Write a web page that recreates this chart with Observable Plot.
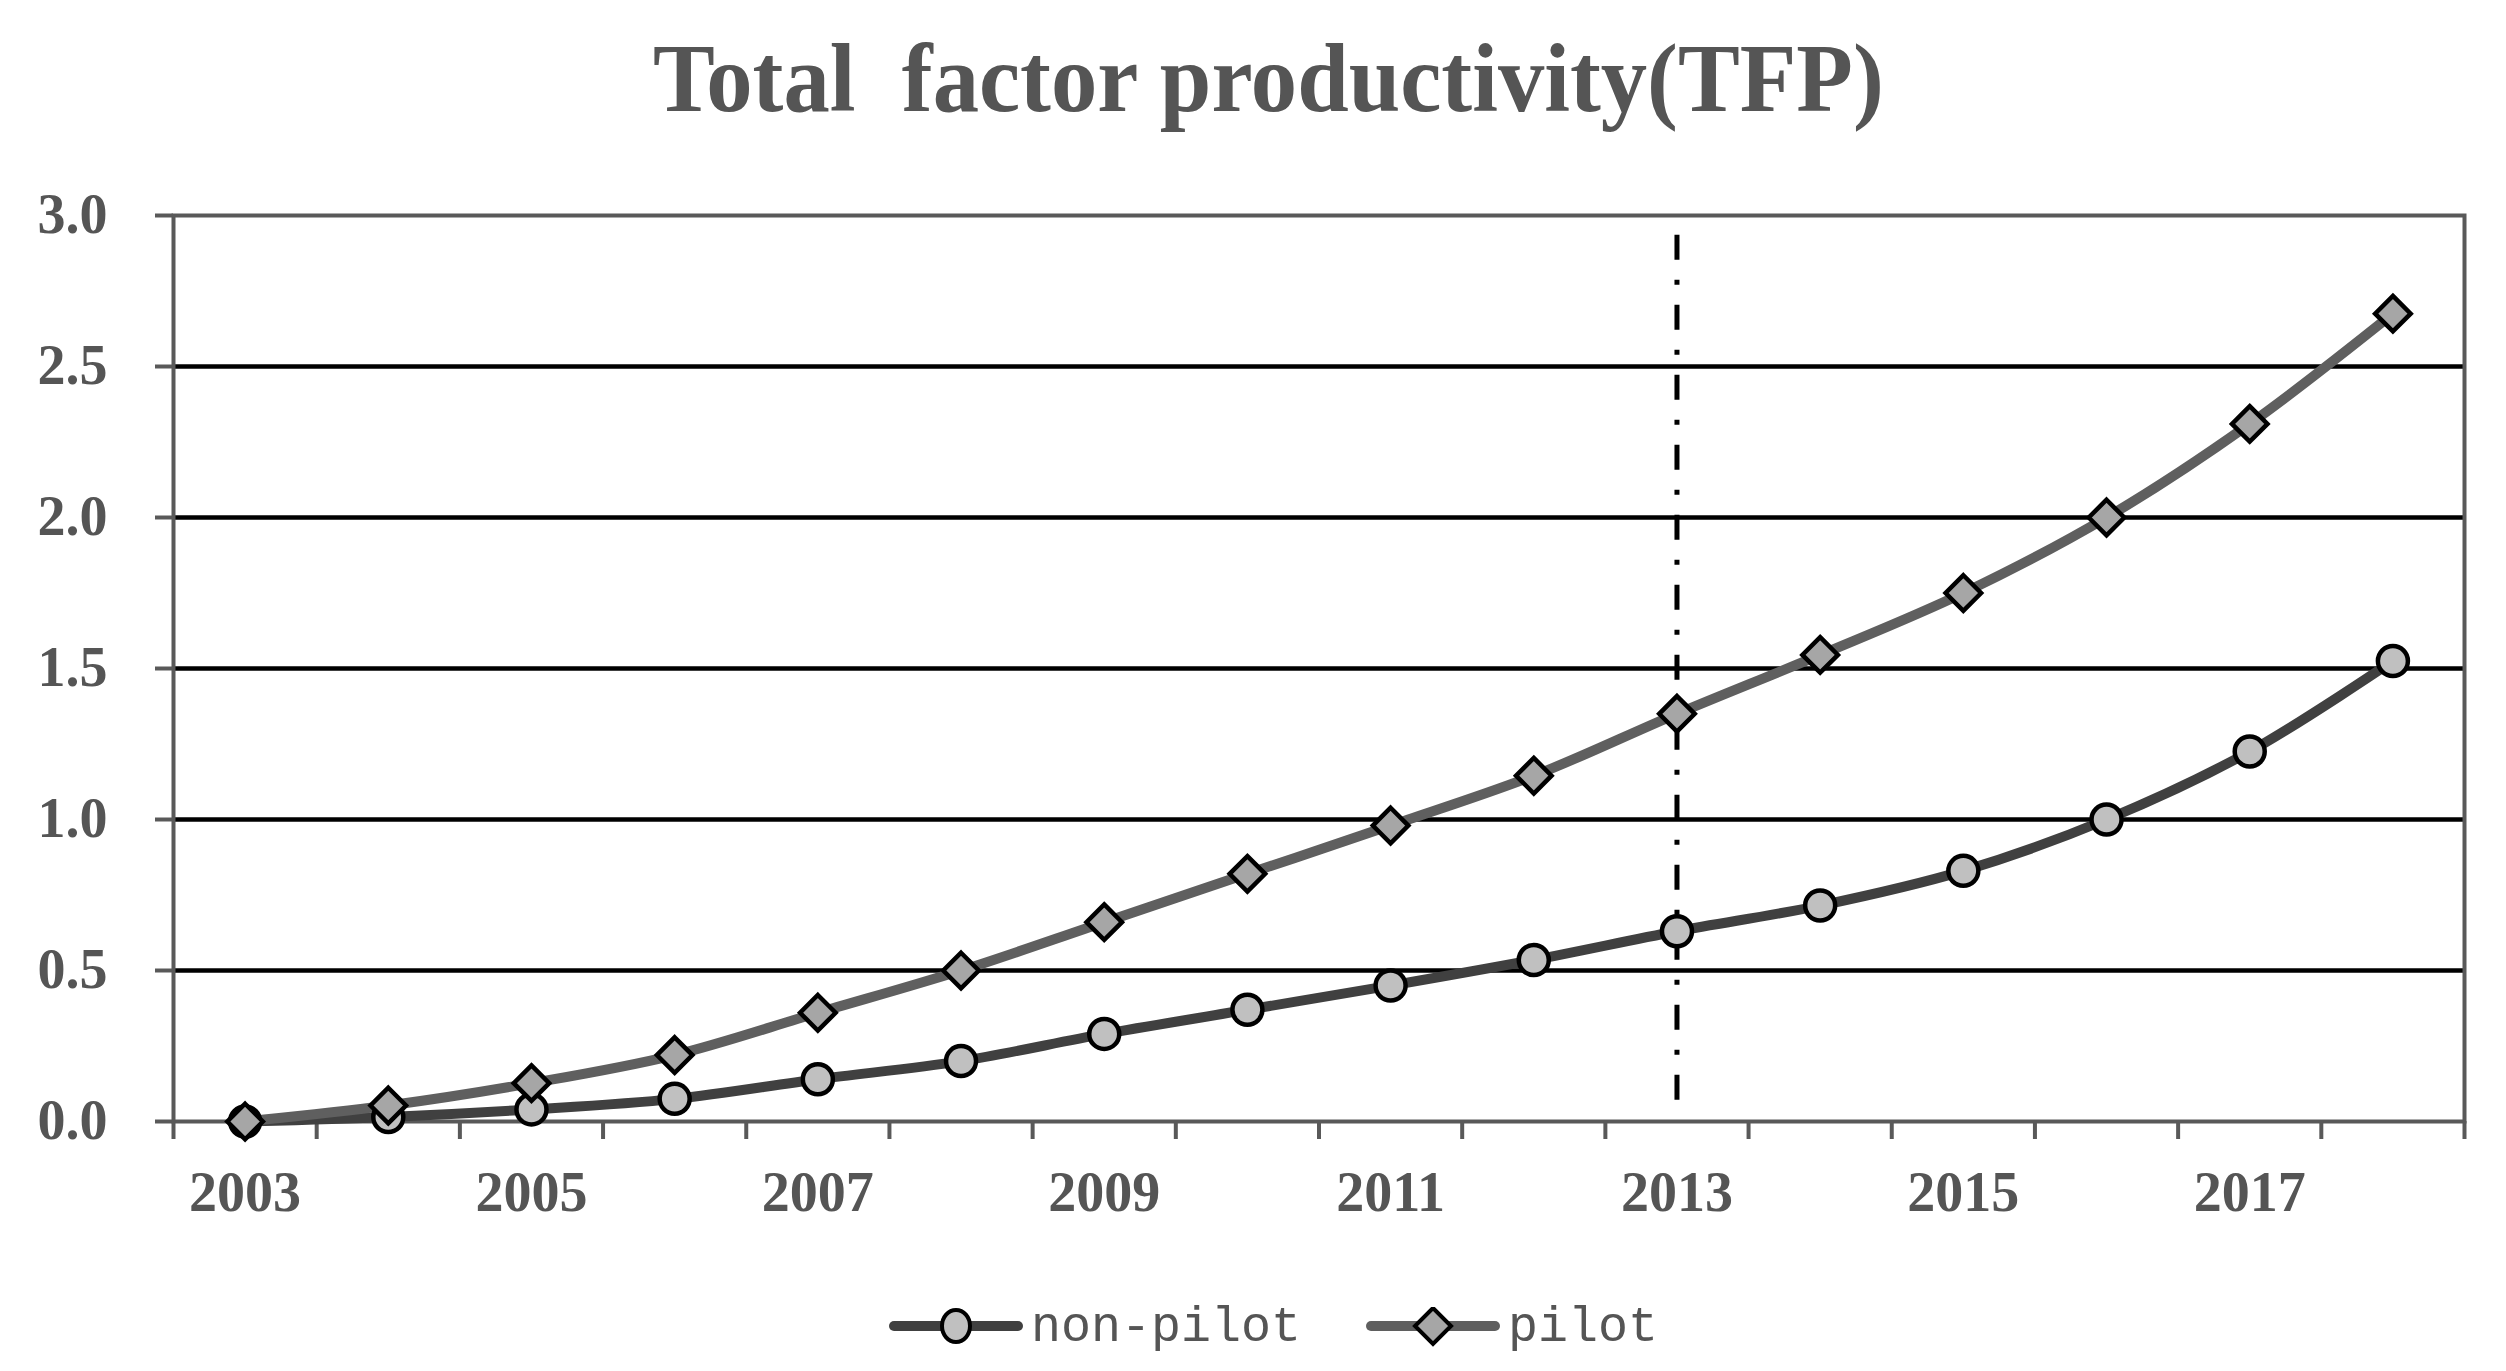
<!DOCTYPE html>
<html>
<head>
<meta charset="utf-8">
<script src="https://cdn.jsdelivr.net/npm/d3@7"></script>
<script src="https://cdn.jsdelivr.net/npm/@observablehq/plot@0.6"></script>
<style>
  html, body { margin: 0; padding: 0; background: #fff; }
  #wrap { position: relative; width: 2506px; height: 1371px; overflow: hidden; background: #fff; }
  #title { position: absolute; top: 30px; left: 0; width: 2506px; padding-left: 30px; box-sizing: border-box;
           text-align: center; font: bold 97px "Liberation Serif", "DejaVu Serif", serif; color: #555;
           line-height: 1; white-space: pre; }
  #title span { display: inline-block; transform: scaleX(0.955); }
  #chart { position: absolute; top: 170px; left: 0; }
  #legend { position: absolute; top: 1297px; left: 888px; height: 60px; display: flex; align-items: center;
            font: 50px "Liberation Mono", "DejaVu Sans Mono", monospace; color: #555; }
  #legend .item { display: flex; align-items: center; }
  #legend .label { margin-left: 7px; }
</style>
</head>
<body>
<div id="wrap">
  <div id="title"><span>Total  factor productivity(TFP)</span></div>
  <div id="chart"></div>
  <div id="legend"></div>
</div>
<script>
// ---- data ----
const years = [2003, 2004, 2005, 2006, 2007, 2008, 2009, 2010, 2011, 2012, 2013, 2014, 2015, 2016, 2017, 2018];
const nonPilot = [0.00, 0.015, 0.04, 0.075, 0.14, 0.20, 0.29, 0.37, 0.45, 0.535, 0.63, 0.715, 0.83, 1.00, 1.225, 1.525];
const pilot = [0.00, 0.053, 0.127, 0.22, 0.36, 0.50, 0.66, 0.82, 0.98, 1.145, 1.35, 1.545, 1.75, 2.00, 2.31, 2.675];
const seriesNames = ["non-pilot", "pilot"];
const yTicks = [0, 0.5, 1.0, 1.5, 2.0, 2.5, 3.0];
const gridValues = [0.5, 1.0, 1.5, 2.0, 2.5];
const xLabelYears = [2003, 2005, 2007, 2009, 2011, 2013, 2015, 2017];
const policyYear = [2013];
const policyRange = [0.07, 2.96];

// ---- styles ----
const colors = { "non-pilot": "#404040", "pilot": "#5f5f5f" };
const fills = { "non-pilot": "#c0c0c0", "pilot": "#a6a6a6" };

const nonRows = years.map((year, i) => ({ year, value: nonPilot[i], series: seriesNames[0] }));
const pilotRows = years.map((year, i) => ({ year, value: pilot[i], series: seriesNames[1] }));
const boundaries = years.map(y => y - 0.5).concat([years[years.length - 1] + 0.5]);

const chart = Plot.plot({
  width: 2506,
  height: 1061,
  marginLeft: 173,
  marginRight: 42,
  marginTop: 45,
  marginBottom: 110,
  x: { type: "linear", domain: [boundaries[0], boundaries[boundaries.length - 1]] },
  y: { domain: [0, 3] },
  style: { fontFamily: "'Liberation Serif', 'DejaVu Serif', serif", fontWeight: "bold", fontSize: "56px", color: "#555", background: "white", overflow: "visible" },
  marks: [
    Plot.ruleY(gridValues, { stroke: "black", strokeWidth: 4.5 }),
    Plot.frame({ stroke: "#595959", strokeWidth: 4 }),
    Plot.ruleX(policyYear, { y1: policyRange[0], y2: policyRange[1], stroke: "black", strokeWidth: 5, strokeDasharray: "25,20,5,20" }),
    Plot.axisY({ ticks: yTicks, tickFormat: d3.format(".1f"), tickSize: 18, tickPadding: 48, stroke: "#595959", strokeWidth: 4, label: null }),
    Plot.axisX({ ticks: boundaries, tickFormat: () => "", tickSize: 18, stroke: "#595959", strokeWidth: 4, label: null }),
    Plot.axisX({ ticks: xLabelYears, tickFormat: d => String(d), tickSize: 0, tickPadding: 50, label: null }),
    Plot.line(nonRows, { x: "year", y: "value", stroke: colors["non-pilot"], strokeWidth: 10, curve: "catmull-rom" }),
    Plot.line(pilotRows, { x: "year", y: "value", stroke: colors["pilot"], strokeWidth: 10, curve: "catmull-rom" }),
    Plot.dot(nonRows, { x: "year", y: "value", symbol: "circle", r: 15, fill: fills["non-pilot"], stroke: "black", strokeWidth: 4.5 }),
    Plot.dot(pilotRows, { x: "year", y: "value", symbol: "diamond2", r: 16, fill: fills["pilot"], stroke: "black", strokeWidth: 4.5 })
  ]
});
document.getElementById("chart").appendChild(chart);

// ---- legend ----
const legend = document.getElementById("legend");
seriesNames.forEach((name, i) => {
  const item = document.createElement("div");
  item.className = "item";
  if (i > 0) item.style.marginLeft = "64px";
  const marker = name === "pilot"
    ? `<path d="M68,1 L86,19 L68,37 L50,19 Z" fill="${fills[name]}" stroke="black" stroke-width="4"/>`
    : `<ellipse cx="68" cy="19" rx="14" ry="16" fill="${fills[name]}" stroke="black" stroke-width="4"/>`;
  item.innerHTML = `<svg width="136" height="40" viewBox="0 0 136 40">
      <line x1="6" y1="19" x2="130" y2="19" stroke="${colors[name]}" stroke-width="10" stroke-linecap="round"/>
      ${marker}</svg><span class="label">${name}</span>`;
  legend.appendChild(item);
});
</script>
</body>
</html>
